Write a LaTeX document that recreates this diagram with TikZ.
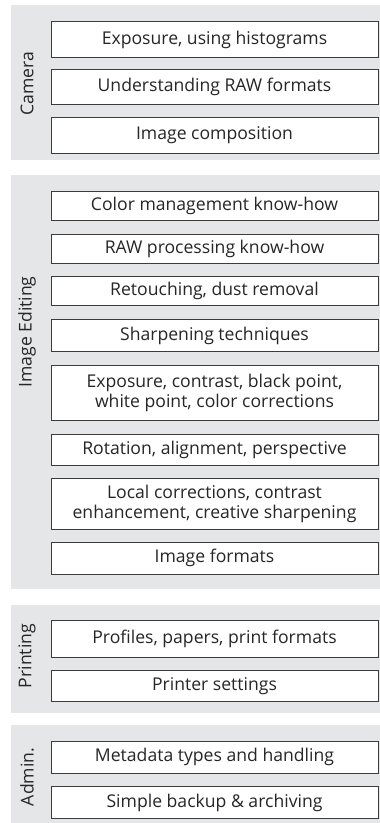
\documentclass[tikz,border=0pt]{standalone}
\usepackage{fontspec}
\setmainfont{Open Sans}
\usepackage{tikz}

\definecolor{panelgray}{RGB}{229,230,231}
\definecolor{boxline}{RGB}{60,60,60}

\begin{document}
\begin{tikzpicture}[x=1pt, y=-1pt,
		panel/.style={fill=panelgray, draw=none},
		item/.style={draw=boxline, line width=1pt, fill=white, minimum width=327pt, align=center, inner sep=0pt, font=\fontsize{17.6}{19.8}\selectfont, text=black!85},
		sidelabel/.style={rotate=90, font=\fontsize{17.6}{20}\selectfont, text=black!85}]
		\useasboundingbox (0,0) rectangle (380,823);

		\fill [panelgray] (11,5) rectangle (380,160);
		\fill [panelgray] (11,175) rectangle (380,589);
		\fill [panelgray] (11,605) rectangle (380,713);
		\fill [panelgray] (11,725) rectangle (380,823);

		\node [sidelabel] (camera) at (27,84) {Camera};
		\node [sidelabel] (editing) at (27,332) {Image Editing};
		\node [sidelabel] (printing) at (27,656) {Printing};
		\node [sidelabel] (admin) at (27,777) {Admin.};

		\node [item, minimum height=36pt] (cam1) at (214.5,39.5) {Exposure, using histograms};
		\node [item, minimum height=35pt] (cam2) at (214.5,86.8) {Understanding RAW formats};
		\node [item, minimum height=36pt] (cam3) at (214.5,135) {Image composition};

		\node [item, minimum height=29pt] (edit1) at (214.5,206.3) {Color management know-how};
		\node [item, minimum height=29pt] (edit2) at (214.5,248.8) {RAW processing know-how};
		\node [item, minimum height=29pt] (edit3) at (214.5,291.3) {Retouching, dust removal};
		\node [item, minimum height=32pt] (edit4) at (214.5,335.5) {Sharpening techniques};
		\node [item, minimum height=55pt] (edit5) at (214.5,392.8) {Exposure, contrast, black point,\\white point, color corrections};
		\node [item, minimum height=31pt] (edit6) at (214.5,450) {Rotation, alignment, perspective};
		\node [item, minimum height=51pt] (edit7) at (214.5,503.8) {Local corrections, contrast\\enhancement, creative sharpening};
		\node [item, minimum height=32pt] (edit8) at (214.5,558) {Image formats};

		\node [item, minimum height=37pt] (print1) at (214.5,639.2) {Profiles, papers, print formats};
		\node [item, minimum height=31pt] (print2) at (214.5,686.3) {Printer settings};

		\node [item, minimum height=32pt] (adm1) at (214.5,757) {Metadata types and handling};
		\node [item, minimum height=32pt] (adm2) at (214.5,802.5) {Simple backup \& archiving};

	\end{tikzpicture}
\end{document}
